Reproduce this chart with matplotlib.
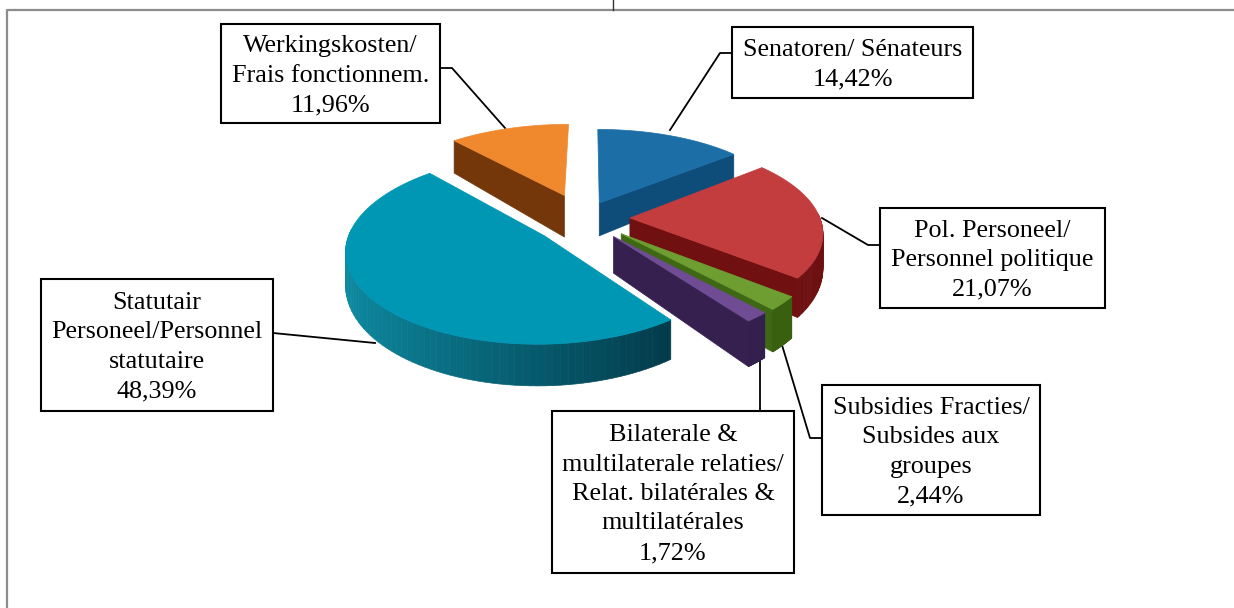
import numpy as np
import matplotlib
matplotlib.use('Agg')
import matplotlib.pyplot as plt
from matplotlib.patches import Polygon, Rectangle
from matplotlib.colors import to_rgb

plt.rcParams['font.family'] = ['Liberation Serif', 'DejaVu Serif']

# data, clockwise from 12 o'clock
names = ['Senatoren/ Sénateurs', 'Pol. Personeel/\nPersonnel politique',
         'Subsidies Fracties/\nSubsides aux\ngroupes',
         'Bilaterale &\nmultilaterale relaties/\nRelat. bilatérales &\nmultilatérales',
         'Statutair\nPersoneel/Personnel\nstatutaire',
         'Werkingskosten/\nFrais fonctionnem.']
shares = [14.42, 21.07, 2.44, 1.72, 48.39, 11.96]

# styles per slice
top_col = ['#1C6EA6', '#C33C3E', '#6E9E32', '#6F4C94', '#0097B4', '#F0882E']
wall_light = ['#0F5282', '#8A1A1A', '#47711A', '#3F2760', '#0E8CA3', '#7E3D0A']
wall_dark = ['#0B4470', '#6E0F10', '#38600F', '#33204F', '#023C4C', '#70340A']
radial_col = ['#0E4C7A', '#701011', '#3E6814', '#35204F', '#034A5C', '#74370A']
offs = [(0.05, -0.17), (0.21, 0.00), (0.16, 0.17), (0.12, 0.20), (-0.235, 0.19), (-0.14, -0.26)]
rad = [1.03, 1.0, 1.0, 1.0, 1.0, 1.03]
depth_k = [1.15, 1.1, 1.1, 1.15, 1.0, 1.5]
draw_order = [5, 0, 1, 2, 3, 4]

# label boxes: x0, y0, x1, y1 in pixels
boxes = [(732, 27, 973, 98), (880, 208, 1105, 308), (822, 385, 1040, 515),
         (552, 411, 794, 573), (41, 279, 273, 411), (221, 24, 440, 123)]
leaders = [[(732, 53), (720, 53), (670, 130)],
           [(880, 245), (868, 245), (822, 218)],
           [(822, 438), (810, 438), (782, 345)],
           [(760, 411), (760, 355)],
           [(273, 333), (375, 343)],
           [(440, 68), (452, 68), (505, 128)]]

cx, cy = 590, 218
a, b, p = 190, 90, 0.15
depth = 30


def proj(u, v):
    s = 1 + p * v
    return cx + a * u * s, cy + b * v * s, depth * s ** 2


def mix(c1, c2, t):
    c1, c2 = np.array(to_rgb(c1)), np.array(to_rgb(c2))
    return tuple(c1 + (c2 - c1) * t)


fig = plt.figure(figsize=(12.34, 6.08), dpi=100)
ax = fig.add_axes([0, 0, 1, 1])
ax.set_xlim(0, 1234)
ax.set_ylim(608, 0)
ax.axis('off')

# outer frame (open on the right and at the bottom) and the stray tick above it
ax.plot([7, 7, 1234], [608, 10, 10], color='#8c8c8c', lw=1.6)
ax.plot([613, 613], [0, 10], color='#333333', lw=1)

edges = np.cumsum([0] + shares) / sum(shares) * 2 * np.pi

for i in draw_order:
    th = np.linspace(edges[i], edges[i + 1], 90)
    ou, ov = offs[i]
    u = ou + rad[i] * np.sin(th)
    v = ov - rad[i] * np.cos(th)
    x, y, d = proj(u, v)
    x0, y0, d0 = proj(ou, ov)
    d = d * depth_k[i]
    d0 = d0 * depth_k[i]
    # radial walls, only the ones facing the viewer
    if np.sin(th[0]) < -1e-6:
        ax.add_patch(Polygon([(x0, y0), (x[0], y[0]), (x[0], y[0] + d[0]), (x0, y0 + d0)],
                             closed=True, fc=radial_col[i], ec=radial_col[i], lw=0.5, zorder=2))
    if np.sin(th[-1]) > 1e-6:
        ax.add_patch(Polygon([(x0, y0), (x[-1], y[-1]), (x[-1], y[-1] + d[-1]), (x0, y0 + d0)],
                             closed=True, fc=radial_col[i], ec=radial_col[i], lw=0.5, zorder=2))
    # outer wall in strips so the shading can run along it, front half only
    for k in range(len(th) - 1):
        if np.cos(th[k]) > 0.05:
            continue
        t = (np.sin(th[k]) + 1) / 1.6
        col = mix(wall_light[i], wall_dark[i], min(t, 1))
        ax.add_patch(Polygon([(x[k], y[k]), (x[k + 1], y[k + 1]),
                              (x[k + 1], y[k + 1] + d[k + 1]), (x[k], y[k] + d[k])],
                             closed=True, fc=col, ec=col, lw=0.5, zorder=2))
    pts = [(x0, y0)] + list(zip(x, y))
    ax.add_patch(Polygon(pts, closed=True, fc=top_col[i], ec=top_col[i], lw=0.5, zorder=2))

# labels
for i in range(len(names)):
    x0, y0, x1, y1 = boxes[i]
    pts = leaders[i]
    ax.plot([q[0] for q in pts], [q[1] for q in pts], color='black', lw=1.3, zorder=1)
    ax.add_patch(Rectangle((x0, y0), x1 - x0, y1 - y0, fc='white', ec='black', lw=1.5, zorder=4))
    txt = names[i] + '\n' + ('%.2f' % shares[i]).replace('.', ',') + '%'
    ax.text((x0 + x1) / 2, (y0 + y1) / 2 + 2, txt, ha='center', va='center', fontsize=18.8,
            linespacing=1.44, color='black', zorder=5)

fig.savefig('out.png', dpi=100)
